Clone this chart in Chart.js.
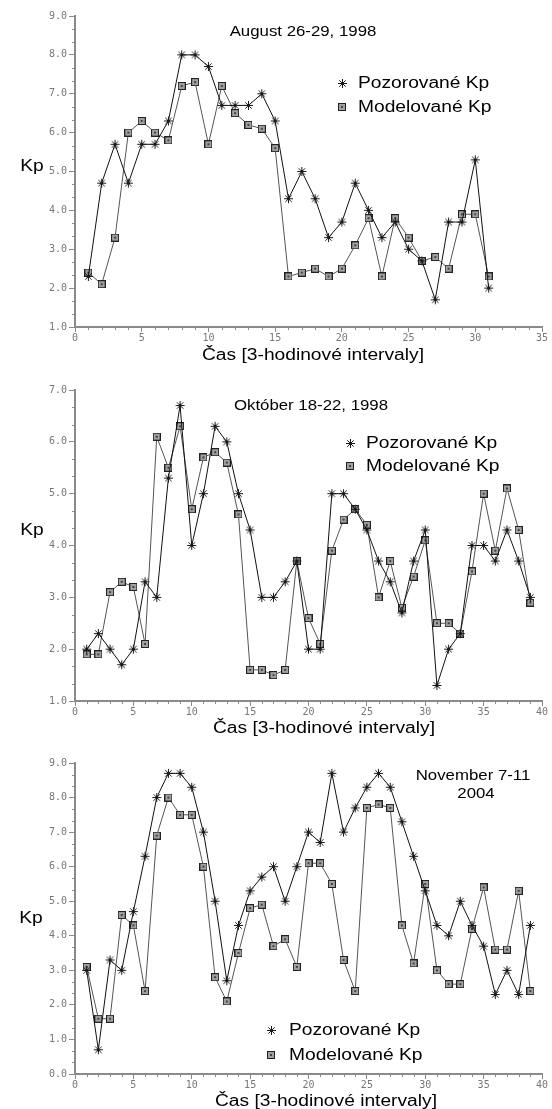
<!DOCTYPE html>
<html>
<head>
<meta charset="utf-8">
<script src="https://cdn.jsdelivr.net/npm/chart.js@4.4.0/dist/chart.umd.min.js"></script>
<style>
  body { margin: 0; background: #fff; }
  #page { position: relative; width: 552px; height: 1109px; overflow: hidden; color: #000; }
  canvas { position: absolute; left: 0; }
  .c, .l { font-family: "Liberation Sans", Arimo, Arial, "DejaVu Sans", sans-serif; }
  .c { position: absolute; white-space: nowrap; transform: translate(-50%, -50%) scaleX(1.2); }
  .l { position: absolute; white-space: nowrap; transform-origin: left center;
       transform: translateY(-50%) scaleX(1.2); font-size: 16px; }
  .mk { position: absolute; }
  .title { font-size: 14px; }
  .axt { font-size: 16px; }
</style>
</head>
<body>
<div id="page">
  <canvas id="aug" width="552" height="347" style="top:0px"></canvas>
  <canvas id="okt" width="552" height="351" style="top:370px"></canvas>
  <canvas id="nov" width="552" height="354" style="top:740px"></canvas>

  <div class="c title" style="left:303px;top:31px">August 26-29, 1998</div>
  <div class="c axt" style="left:32px;top:166px">Kp</div>
  <div class="c axt" style="left:313px;top:355px">Čas [3-hodinové intervaly]</div>
  <canvas class="mk star" style="left:337px;top:78px"></canvas>
  <div class="l" style="left:358px;top:83px">Pozorované Kp</div>
  <canvas class="mk sq" style="left:338px;top:103px"></canvas>
  <div class="l" style="left:358px;top:107px">Modelované Kp</div>

  <div class="c title" style="left:311px;top:405px">Október 18-22, 1998</div>
  <div class="c axt" style="left:32px;top:530px">Kp</div>
  <div class="c axt" style="left:324px;top:728px">Čas [3-hodinové intervaly]</div>
  <canvas class="mk star" style="left:345px;top:438px"></canvas>
  <div class="l" style="left:366px;top:443px">Pozorované Kp</div>
  <canvas class="mk sq" style="left:346px;top:462px"></canvas>
  <div class="l" style="left:366px;top:466px">Modelované Kp</div>

  <div class="c title" style="left:473px;top:775px">November 7-11</div>
  <div class="c title" style="left:476px;top:793px">2004</div>
  <div class="c axt" style="left:31px;top:918px">Kp</div>
  <div class="c axt" style="left:326px;top:1101px">Čas [3-hodinové intervaly]</div>
  <canvas class="mk star" style="left:266px;top:1025px"></canvas>
  <div class="l" style="left:289px;top:1030px">Pozorované Kp</div>
  <canvas class="mk sq" style="left:267px;top:1051px"></canvas>
  <div class="l" style="left:289px;top:1055px">Modelované Kp</div>
</div>

<script>
// August 26-29, 1998
const intervalsAug = [1, 2, 3, 4, 5, 6, 7, 8, 9, 10, 11, 12, 13, 14, 15, 16,
    17, 18, 19, 20, 21, 22, 23, 24, 25, 26, 27, 28, 29, 30, 31];
const pozorovaneAug = [2.3, 4.7, 5.7, 4.7, 5.7, 5.7, 6.3, 8.0, 8.0, 7.7, 6.7, 6.7,
    6.7, 7.0, 6.3, 4.3, 5.0, 4.3, 3.3, 3.7, 4.7, 4.0, 3.3, 3.7, 3.0, 2.7, 1.7,
    3.7, 3.7, 5.3, 2.0];
const modelovaneAug = [2.4, 2.1, 3.3, 6.0, 6.3, 6.0, 5.8, 7.2, 7.3, 5.7, 7.2, 6.5,
    6.2, 6.1, 5.6, 2.3, 2.4, 2.5, 2.3, 2.5, 3.1, 3.8, 2.3, 3.8, 3.3, 2.7, 2.8,
    2.5, 3.9, 3.9, 2.3];
const xTicksAug = [0, 5, 10, 15, 20, 25, 30, 35];
const yTicksAug = [1, 2, 3, 4, 5, 6, 7, 8, 9];

// Október 18-22, 1998
const intervalsOkt = [1, 2, 3, 4, 5, 6, 7, 8, 9, 10, 11, 12, 13, 14, 15, 16,
    17, 18, 19, 20, 21, 22, 23, 24, 25, 26, 27, 28, 29, 30, 31, 32, 33, 34,
    35, 36, 37, 38, 39];
const pozorovaneOkt = [2.0, 2.3, 2.0, 1.7, 2.0, 3.3, 3.0, 5.3, 6.7, 4.0, 5.0, 6.3,
    6.0, 5.0, 4.3, 3.0, 3.0, 3.3, 3.7, 2.0, 2.0, 5.0, 5.0, 4.7, 4.3, 3.7, 3.3,
    2.7, 3.7, 4.3, 1.3, 2.0, 2.3, 4.0, 4.0, 3.7, 4.3, 3.7, 3.0];
const modelovaneOkt = [1.9, 1.9, 3.1, 3.3, 3.2, 2.1, 6.1, 5.5, 6.3, 4.7, 5.7, 5.8,
    5.6, 4.6, 1.6, 1.6, 1.5, 1.6, 3.7, 2.6, 2.1, 3.9, 4.5, 4.7, 4.4, 3.0, 3.7,
    2.8, 3.4, 4.1, 2.5, 2.5, 2.3, 3.5, 5.0, 3.9, 5.1, 4.3, 2.9];
const xTicksOkt = [0, 5, 10, 15, 20, 25, 30, 35, 40];
const yTicksOkt = [1, 2, 3, 4, 5, 6, 7];

// November 7-11, 2004
const intervalsNov = intervalsOkt;
const pozorovaneNov = [3.0, 0.7, 3.3, 3.0, 4.7, 6.3, 8.0, 8.7, 8.7, 8.3, 7.0, 5.0,
    2.7, 4.3, 5.3, 5.7, 6.0, 5.0, 6.0, 7.0, 6.7, 8.7, 7.0, 7.7, 8.3, 8.7, 8.3,
    7.3, 6.3, 5.3, 4.3, 4.0, 5.0, 4.3, 3.7, 2.3, 3.0, 2.3, 4.3];
const modelovaneNov = [3.1, 1.6, 1.6, 4.6, 4.3, 2.4, 6.9, 8.0, 7.5, 7.5, 6.0, 2.8,
    2.1, 3.5, 4.8, 4.9, 3.7, 3.9, 3.1, 6.1, 6.1, 5.5, 3.3, 2.4, 7.7, 7.8, 7.7,
    4.3, 3.2, 5.5, 3.0, 2.6, 2.6, 4.2, 5.4, 3.6, 3.6, 5.3, 2.4];
const xTicksNov = xTicksOkt;
const yTicksNov = [0, 1, 2, 3, 4, 5, 6, 7, 8, 9];

const axisColor = "#8a8a8a";
const tickFont = { family: "DejaVu Sans Mono", size: 10 };

function drawStar(c) {
    c.width = 11;
    c.height = 11;
    const g = c.getContext("2d");
    g.strokeStyle = "#1a1a1a";
    g.lineWidth = 1;
    g.beginPath();
    g.moveTo(1, 5.5); g.lineTo(10, 5.5);
    g.moveTo(5.5, 1); g.lineTo(5.5, 10);
    g.moveTo(2.3, 2.3); g.lineTo(8.7, 8.7);
    g.moveTo(2.3, 8.7); g.lineTo(8.7, 2.3);
    g.stroke();
    return c;
}

function drawSquare(c) {
    c.width = 8;
    c.height = 8;
    const g = c.getContext("2d");
    g.fillStyle = "#222";
    g.fillRect(0, 0, 8, 8);
    g.fillStyle = "#a0a0a0";
    g.fillRect(1, 1, 6, 6);
    g.fillStyle = "#444";
    g.fillRect(3, 3, 2, 2);
    return c;
}

const starImg = drawStar(document.createElement("canvas"));
const squareImg = drawSquare(document.createElement("canvas"));
document.querySelectorAll(".mk.star").forEach(drawStar);
document.querySelectorAll(".mk.sq").forEach(drawSquare);

// short unlabelled ticks: every interval on x, every 1/3 Kp on y
const minorTicks = {
    id: "minorTicks",
    afterDraw(chart) {
        const { ctx } = chart;
        const x = chart.scales.x;
        const y = chart.scales.y;
        ctx.save();
        ctx.strokeStyle = axisColor;
        ctx.lineWidth = 1;
        ctx.beginPath();
        for (let k = x.min; k <= x.max; k++) {
            if (k % 5 === 0) continue;
            const px = Math.round(x.getPixelForValue(k)) + 0.5;
            ctx.moveTo(px, x.top);
            ctx.lineTo(px, x.top + 3);
        }
        for (let k = Math.round(y.min * 3); k <= Math.round(y.max * 3); k++) {
            if (k % 3 === 0) continue;
            const py = Math.round(y.getPixelForValue(k / 3)) + 0.5;
            ctx.moveTo(y.right - 3, py);
            ctx.lineTo(y.right, py);
        }
        ctx.stroke();
        ctx.restore();
    },
};

function points(xs, ys) {
    return xs.map((x, i) => ({ x: x, y: ys[i] }));
}

function start(id, xs, obs, mod, xTicks, yTicks, area) {
    const canvas = document.getElementById(id);
    const h = canvas.height;
    new Chart(canvas, {
        type: "line",
        data: {
            datasets: [
                {
                    label: "Pozorované Kp",
                    data: points(xs, obs),
                    borderColor: "#111",
                    borderWidth: 1,
                    pointStyle: starImg,
                    pointRadius: 4,
                    pointHoverRadius: 4,
                    tension: 0,
                },
                {
                    label: "Modelované Kp",
                    data: points(xs, mod),
                    borderColor: "#555",
                    borderWidth: 1,
                    pointStyle: squareImg,
                    pointRadius: 4,
                    pointHoverRadius: 4,
                    tension: 0,
                },
            ],
        },
        options: {
            responsive: false,
            animation: false,
            devicePixelRatio: 1,
            layout: { padding: { left: 0, top: area.top, right: 552 - area.right, bottom: 0 } },
            plugins: { legend: { display: false }, tooltip: { enabled: false } },
            scales: {
                x: {
                    type: "linear",
                    min: xTicks[0],
                    max: xTicks[xTicks.length - 1],
                    afterBuildTicks: (s) => { s.ticks = xTicks.map((v) => ({ value: v })); },
                    afterFit: (s) => { s.height = h - area.bottom; },
                    ticks: { font: tickFont, color: "#777", padding: 0, maxRotation: 0, autoSkip: false,
                             callback: (v) => String(v) },
                    grid: { drawOnChartArea: false, tickLength: 5, tickColor: axisColor, tickWidth: 1 },
                    border: { color: axisColor, width: 2 },
                },
                y: {
                    min: yTicks[0],
                    max: yTicks[yTicks.length - 1],
                    afterBuildTicks: (s) => { s.ticks = yTicks.map((v) => ({ value: v })); },
                    afterFit: (s) => { s.width = area.left; },
                    ticks: { font: tickFont, color: "#777", padding: 2, autoSkip: false,
                             callback: (v) => Number(v).toFixed(1) },
                    grid: { drawOnChartArea: false, tickLength: 6, tickColor: axisColor, tickWidth: 1 },
                    border: { color: axisColor, width: 2 },
                },
            },
        },
        plugins: [minorTicks],
    });
}

start("aug", intervalsAug, pozorovaneAug, modelovaneAug, xTicksAug, yTicksAug,
    { left: 75, right: 542, top: 16, bottom: 327 });
start("okt", intervalsOkt, pozorovaneOkt, modelovaneOkt, xTicksOkt, yTicksOkt,
    { left: 75, right: 542, top: 20, bottom: 331 });
start("nov", intervalsNov, pozorovaneNov, modelovaneNov, xTicksNov, yTicksNov,
    { left: 75, right: 542, top: 23, bottom: 334 });
</script>
</body>
</html>
